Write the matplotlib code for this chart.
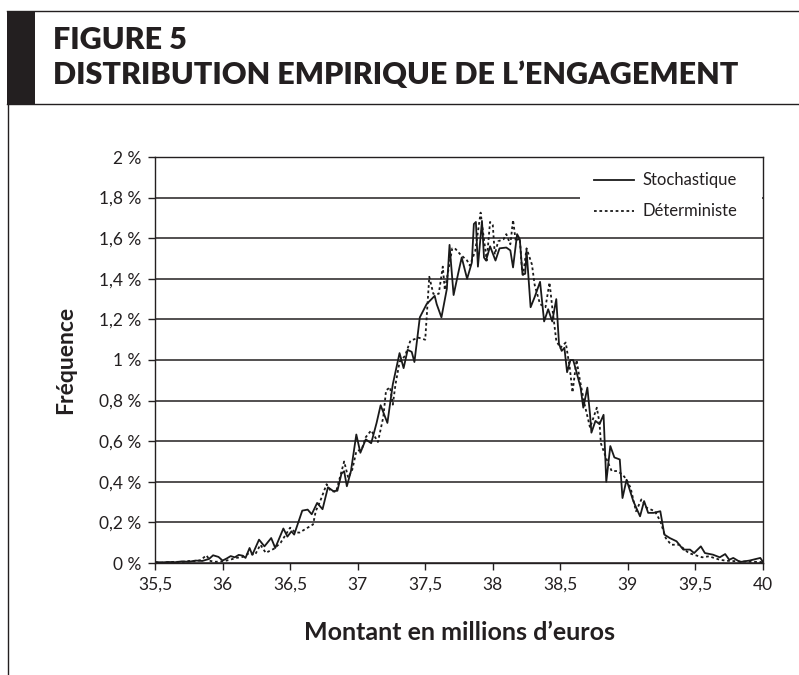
import matplotlib
matplotlib.use("Agg")
import matplotlib.pyplot as plt
from matplotlib.lines import Line2D
from matplotlib.patches import Rectangle
from matplotlib.ticker import FuncFormatter

plt.rcParams["font.family"] = ["Lato", "DejaVu Sans"]

# Stochastique (solid): amount in millions of euros, frequency in %
montant_stoch = [35.50, 35.55, 35.60, 35.65, 35.70, 35.75, 35.80, 35.85, 35.90, 35.93,
                 35.97, 36.00, 36.03, 36.06, 36.09, 36.12, 36.15, 36.17, 36.20, 36.22,
                 36.27, 36.31, 36.36, 36.39, 36.45, 36.48, 36.51, 36.53, 36.59, 36.63,
                 36.66, 36.70, 36.74, 36.78, 36.82, 36.85, 36.88, 36.90, 36.92, 36.95,
                 36.99, 37.02, 37.06, 37.10, 37.14, 37.17, 37.22, 37.26, 37.31, 37.34,
                 37.37, 37.40, 37.42, 37.46, 37.51, 37.57, 37.585, 37.62, 37.66, 37.68,
                 37.71, 37.745, 37.77, 37.81, 37.845, 37.86, 37.875, 37.89, 37.905, 37.92,
                 37.935, 37.95, 37.98, 38.02, 38.05, 38.10, 38.13, 38.15, 38.18, 38.20,
                 38.22, 38.24, 38.25, 38.28, 38.31, 38.35, 38.38, 38.41, 38.44, 38.47,
                 38.49, 38.51, 38.53, 38.55, 38.575, 38.595, 38.62, 38.65, 38.67, 38.70,
                 38.72, 38.73, 38.76, 38.79, 38.82, 38.84, 38.87, 38.90, 38.94, 38.96,
                 38.99, 39.04, 39.09, 39.12, 39.15, 39.19, 39.24, 39.27, 39.31, 39.36,
                 39.41, 39.46, 39.49, 39.54, 39.57, 39.63, 39.68, 39.72, 39.75, 39.78,
                 39.83, 39.90, 39.98, 40.00]
freq_stoch = [0.005, 0.003, 0.005, 0.004, 0.008, 0.006, 0.012, 0.010, 0.020, 0.038,
              0.030, 0.012, 0.022, 0.034, 0.028, 0.040, 0.036, 0.025, 0.074, 0.040,
              0.115, 0.082, 0.123, 0.074, 0.170, 0.130, 0.156, 0.140, 0.258, 0.263,
              0.240, 0.296, 0.265, 0.373, 0.354, 0.356, 0.440, 0.452, 0.378, 0.452,
              0.633, 0.543, 0.609, 0.590, 0.690, 0.777, 0.690, 0.880, 1.034, 0.960,
              1.050, 1.040, 0.990, 1.210, 1.275, 1.316, 1.275, 1.210, 1.350, 1.567,
              1.320, 1.430, 1.505, 1.400, 1.480, 1.670, 1.680, 1.460, 1.570, 1.685,
              1.505, 1.490, 1.560, 1.490, 1.550, 1.554, 1.540, 1.456, 1.620, 1.595,
              1.420, 1.425, 1.540, 1.260, 1.310, 1.385, 1.190, 1.250, 1.190, 1.300,
              1.080, 1.045, 1.060, 0.940, 1.000, 1.000, 0.940, 0.864, 0.765, 0.864,
              0.730, 0.642, 0.700, 0.684, 0.730, 0.400, 0.576, 0.520, 0.510, 0.320,
              0.410, 0.305, 0.230, 0.305, 0.247, 0.247, 0.255, 0.140, 0.123, 0.107,
              0.066, 0.066, 0.049, 0.082, 0.049, 0.041, 0.028, 0.044, 0.016, 0.025,
              0.005, 0.012, 0.025, 0.005]

# Deterministe (dotted)
montant_det = [35.50, 35.55, 35.60, 35.65, 35.70, 35.75, 35.80, 35.84, 35.88, 35.91,
               35.95, 36.00, 36.05, 36.10, 36.15, 36.20, 36.24, 36.28, 36.32, 36.38,
               36.43, 36.50, 36.54, 36.57, 36.62, 36.67, 36.69, 36.72, 36.77, 36.80,
               36.84, 36.90, 36.93, 36.96, 36.99, 37.03, 37.06, 37.10, 37.15, 37.19,
               37.21, 37.24, 37.26, 37.28, 37.31, 37.35, 37.39, 37.45, 37.50, 37.53,
               37.56, 37.60, 37.63, 37.645, 37.70, 37.72, 37.76, 37.81, 37.83, 37.87,
               37.91, 37.925, 37.955, 37.98, 38.00, 38.015, 38.04, 38.08, 38.10, 38.13,
               38.15, 38.17, 38.20, 38.215, 38.225, 38.25, 38.29, 38.31, 38.35, 38.39,
               38.42, 38.44, 38.47, 38.50, 38.54, 38.57, 38.59, 38.62, 38.645, 38.68,
               38.72, 38.77, 38.79, 38.80, 38.84, 38.88, 38.92, 38.96, 38.99, 39.02,
               39.06, 39.10, 39.14, 39.20, 39.24, 39.28, 39.32, 39.38, 39.45, 39.55,
               39.60, 39.68, 39.73, 39.83, 39.98, 40.00]
freq_det = [0.003, 0.002, 0.004, 0.006, 0.005, 0.010, 0.008, 0.015, 0.038, 0.010,
            0.006, 0.008, 0.015, 0.025, 0.030, 0.050, 0.040, 0.090, 0.050, 0.070,
            0.100, 0.174, 0.150, 0.150, 0.170, 0.190, 0.256, 0.300, 0.388, 0.355,
            0.350, 0.500, 0.420, 0.460, 0.550, 0.560, 0.620, 0.653, 0.596, 0.720,
            0.850, 0.866, 0.780, 0.880, 0.990, 1.020, 1.095, 1.110, 1.100, 1.410,
            1.326, 1.326, 1.460, 1.345, 1.550, 1.550, 1.520, 1.490, 1.465, 1.537,
            1.726, 1.645, 1.490, 1.680, 1.665, 1.520, 1.585, 1.595, 1.620, 1.570,
            1.690, 1.585, 1.600, 1.455, 1.420, 1.550, 1.470, 1.370, 1.275, 1.260,
            1.382, 1.260, 1.095, 1.060, 1.086, 0.960, 0.840, 1.000, 0.900, 0.780,
            0.667, 0.765, 0.690, 0.590, 0.515, 0.453, 0.453, 0.436, 0.411, 0.370,
            0.255, 0.313, 0.272, 0.255, 0.206, 0.123, 0.090, 0.090, 0.049, 0.028,
            0.033, 0.016, 0.011, 0.008, 0.005, 0.003]

x_ticks = [35.5, 36, 36.5, 37, 37.5, 38, 38.5, 39, 39.5, 40]
y_ticks = [0, 0.2, 0.4, 0.6, 0.8, 1.0, 1.2, 1.4, 1.6, 1.8, 2.0]

W, H = 799, 675
INK = "#231f20"
fig = plt.figure(figsize=(W / 100, H / 100), dpi=100)


def fx(px):
    return px / W


def fy(py):
    return 1 - py / H


# page frame: black tab, rules around the title block
fig.add_artist(Rectangle((fx(7), fy(104)), fx(28), 93 / H, transform=fig.transFigure,
                         color=INK, lw=0))
fig.add_artist(Line2D([fx(7), 1], [fy(11), fy(11)], transform=fig.transFigure, color=INK, lw=1))
fig.add_artist(Line2D([fx(7), 1], [fy(104), fy(104)], transform=fig.transFigure, color=INK, lw=1))
fig.add_artist(Line2D([fx(7.5), fx(7.5)], [fy(104), 0], transform=fig.transFigure, color=INK, lw=1))

fig.text(fx(53), fy(40), "FIGURE 5", fontsize=22, fontweight="heavy", color=INK, va="center")
fig.text(fx(53), fy(75), "DISTRIBUTION EMPIRIQUE DE L\u2019ENGAGEMENT", fontsize=22,
         fontweight="heavy", color=INK, va="center")

ax = fig.add_axes([fx(155), fy(563), (763 - 155) / W, (563 - 157) / H])
ax.plot(montant_stoch, freq_stoch, color="#1a1a1a", lw=1.3, label="Stochastique", zorder=3)
ax.plot(montant_det, freq_det, color="#1a1a1a", lw=1.3, ls=(0, (1.5, 1.5)), label="D\u00e9terministe", zorder=3)

ax.set_xlim(35.5, 40)
ax.set_ylim(0, 2)
ax.set_xticks(x_ticks)
ax.set_yticks(y_ticks)
ax.xaxis.set_major_formatter(FuncFormatter(lambda v, p: f"{v:g}".replace(".", ",")))
ax.yaxis.set_major_formatter(FuncFormatter(lambda v, p: f"{v:g}".replace(".", ",") + " %"))
ax.tick_params(direction="out", length=5, width=1, colors=INK, labelsize=12.5, pad=5)
ax.yaxis.grid(True, color=INK, lw=1.1)
ax.set_axisbelow(True)
for s in ax.spines.values():
    s.set_color(INK)
    s.set_linewidth(1)
    s.set_zorder(4)

ax.set_xlabel("Montant en millions d\u2019euros", fontsize=18, fontweight="bold", color=INK, labelpad=20)
ax.set_ylabel("Fr\u00e9quence", fontsize=16.5, fontweight="bold", color=INK, labelpad=16)

# white legend area hides the 1,8 % gridline
ax.add_patch(Rectangle((0.699, 0.825), 0.299, 0.148, transform=ax.transAxes,
                       facecolor="white", edgecolor="none", zorder=1.5))
leg = ax.legend(loc="upper right", bbox_to_anchor=(0.958, 0.962), borderaxespad=0, borderpad=0,
                handlelength=2.4, handletextpad=0.5, labelspacing=0.9, fontsize=12,
                frameon=False)
for t in leg.get_texts():
    t.set_color(INK)

fig.savefig("out.png", dpi=100)
